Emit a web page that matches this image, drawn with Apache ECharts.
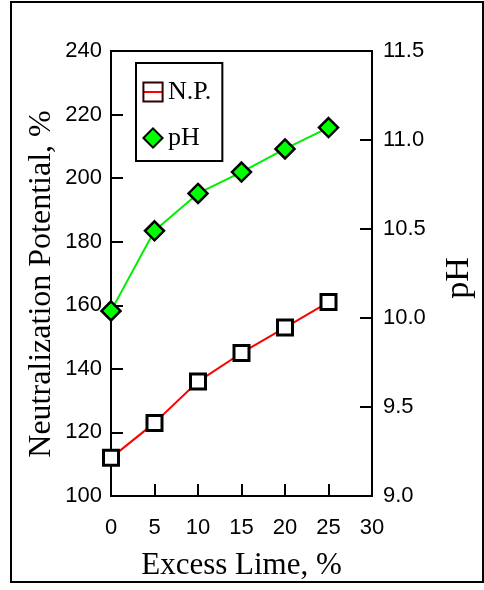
<!DOCTYPE html>
<html>
<head>
<meta charset="utf-8">
<script src="https://cdn.jsdelivr.net/npm/echarts@6/dist/echarts.min.js"></script>
<style>html,body{margin:0;padding:0;background:#fff;}#c{width:484px;height:590px;}</style>
</head>
<body>
<div id="c"></div>
<script>
const excessLime = [0, 5, 10, 15, 20, 25];
const npValues = [112, 123, 136, 145, 153, 161];
const phValues = [10.04, 10.49, 10.70, 10.82, 10.95, 11.07];
const seriesNames = ['N.P.', 'pH'];
const xTitle = 'Excess Lime, %';
const yLeftTitle = 'Neutralization Potential, %';
const yRightTitle = 'pH';

const SANS = '"Liberation Sans", Arial, sans-serif';
const SERIF = '"Liberation Serif", "Times New Roman", serif';

const chart = echarts.init(document.getElementById('c'), null, {renderer: 'canvas'});
const tickStyle = {show: true, inside: true, length: 12, lineStyle: {color: '#000', width: 2}};
const lineAxis = {show: true, lineStyle: {color: '#000', width: 2}};

chart.setOption({
  animation: false,
  backgroundColor: '#fff',
  grid: {left: 111, top: 51, right: 112, bottom: 94, show: true, borderColor: '#000', borderWidth: 2, backgroundColor: 'transparent'},
  legend: {
    orient: 'vertical', left: 136, top: 63,
    borderColor: '#000', borderWidth: 2, padding: [16, 11, 10, 6],
    itemWidth: 20, itemHeight: 24, itemGap: 20, itemTextGap: 6,
    textStyle: {fontFamily: SERIF, fontSize: 26, color: '#000', lineHeight: 26},
    data: [
      {name: seriesNames[0], itemStyle: {color: 'rgba(255,255,255,0)', borderColor: '#300', borderWidth: 2}},
      {name: seriesNames[1]}
    ]
  },
  xAxis: {
    type: 'value', min: 0, max: 30, interval: 5,
    name: xTitle, nameLocation: 'middle', nameGap: 54,
    nameTextStyle: {fontFamily: SERIF, fontSize: 31, color: '#000'},
    axisLine: lineAxis, axisTick: tickStyle, splitLine: {show: false},
    axisLabel: {fontFamily: SANS, fontSize: 22, color: '#000', margin: 21}
  },
  yAxis: [{
    type: 'value', min: 100, max: 240, interval: 20, position: 'left',
    axisLine: lineAxis, axisTick: tickStyle, splitLine: {show: false},
    axisLabel: {fontFamily: SANS, fontSize: 22, color: '#000', margin: 9}
  }, {
    type: 'value', min: 9, max: 11.5, interval: 0.5, position: 'right',
    axisLine: lineAxis, axisTick: tickStyle, splitLine: {show: false},
    axisLabel: {fontFamily: SANS, fontSize: 22, color: '#000', margin: 11,
      formatter: v => v.toFixed(1)}
  }],
  graphic: [
    {type: 'rect', shape: {x: 11, y: 2, width: 472, height: 580}, style: {fill: 'none', stroke: '#000', lineWidth: 2}, z: -1},
    {type: 'text', x: 42, y: 284, rotation: Math.PI / 2,
      style: {text: yLeftTitle, font: '32px ' + SERIF, fill: '#000', textAlign: 'center', textVerticalAlign: 'middle'}},
    {type: 'text', x: 459, y: 278, rotation: Math.PI / 2,
      style: {text: yRightTitle, font: '34px ' + SERIF, fill: '#000', textAlign: 'center', textVerticalAlign: 'middle'}}
  ],
  series: [{
    name: seriesNames[0], type: 'line', yAxisIndex: 0,
    data: excessLime.map((x, i) => [x, npValues[i]]),
    symbol: 'rect', symbolSize: 15,
    lineStyle: {color: '#ff0000', width: 2},
    itemStyle: {color: '#fff', borderColor: '#000', borderWidth: 3},
    z: 3
  }, {
    name: seriesNames[1], type: 'line', yAxisIndex: 1,
    data: excessLime.map((x, i) => [x, phValues[i]]),
    symbol: 'diamond', symbolSize: 19,
    lineStyle: {color: '#00ee00', width: 2},
    itemStyle: {color: '#00ff00', borderColor: '#000', borderWidth: 2.5},
    z: 3
  }]
});
</script>
</body>
</html>
